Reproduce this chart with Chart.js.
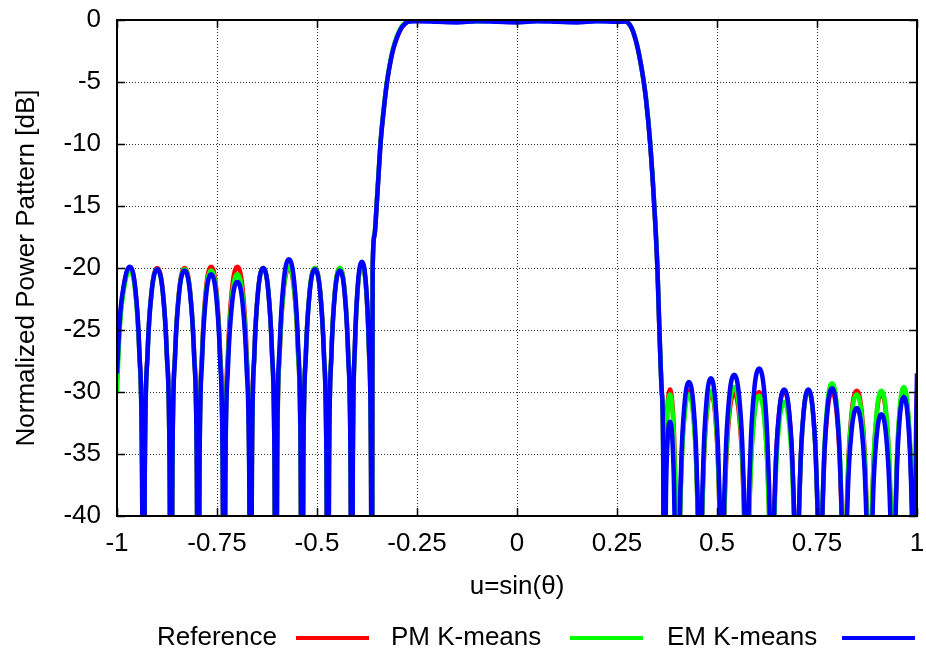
<!DOCTYPE html>
<html>
<head>
<meta charset="utf-8">
<script src="https://cdn.jsdelivr.net/npm/chart.js@4"></script>
<style>
html,body{margin:0;padding:0;background:#fff;}
#wrap{width:926px;height:653px;position:relative;}
</style>
</head>
<body>
<div id="wrap"><canvas id="c" width="926" height="653"></canvas></div>
<script>
// ---- data ----
const uValues = [
  -1.0, -0.995, -0.99, -0.983, -0.975, -0.9675, -0.9541, -0.944, -0.9374, -0.934,
  -0.9305, -0.9237, -0.9133, -0.8995, -0.8857, -0.8754, -0.8684, -0.865,
  -0.8616, -0.8548, -0.8446, -0.831, -0.8174, -0.8072, -0.8004, -0.797,
  -0.7938, -0.7873, -0.7776, -0.7647, -0.7518, -0.7422, -0.7357, -0.7325,
  -0.7292, -0.7225, -0.7125, -0.6992, -0.6859, -0.676, -0.6693, -0.666,
  -0.6628, -0.6565, -0.6471, -0.6345, -0.6219, -0.6124, -0.6061, -0.603,
  -0.5997, -0.5932, -0.5833, -0.5702, -0.5571, -0.5473, -0.5408, -0.5375,
  -0.5343, -0.5278, -0.5181, -0.5052, -0.4923, -0.4827, -0.4762, -0.473,
  -0.47, -0.464, -0.455, -0.443, -0.431, -0.422, -0.416, -0.413,
  -0.4105, -0.4054, -0.3978, -0.3877, -0.3776, -0.3701, -0.365, -0.3625,
  -0.3617, -0.3608, -0.356, -0.3508, -0.3458, -0.3408, -0.335, -0.33, -0.324, -0.316,
  -0.309, -0.3, -0.29, -0.28, -0.27, -0.25, -0.2, -0.15, -0.1, -0.05,
  0, 0.05, 0.1, 0.15, 0.2, 0.25, 0.27, 0.28, 0.29, 0.302,
  0.316, 0.3225, 0.3325, 0.343, 0.351, 0.356, 0.362, 0.3655, 0.367,
  0.369, 0.3725, 0.377, 0.3825, 0.388, 0.3925, 0.396, 0.399, 0.402,
  0.4048, 0.4103, 0.4187, 0.4298, 0.4409, 0.4492, 0.4547, 0.4575,
  0.4602, 0.4657, 0.4739, 0.4848, 0.4957, 0.5038, 0.5093, 0.512,
  0.5151, 0.5213, 0.5306, 0.543, 0.5554, 0.5647, 0.5709, 0.574,
  0.5771, 0.5834, 0.5928, 0.6054, 0.6179, 0.6273, 0.6336, 0.6367,
  0.6398, 0.646, 0.6554, 0.6679, 0.6803, 0.6897, 0.6959, 0.699,
  0.7019, 0.7078, 0.7166, 0.7283, 0.74, 0.7487, 0.7546, 0.7575,
  0.7605, 0.7665, 0.7755, 0.7875, 0.7995, 0.8085, 0.8145, 0.8175,
  0.8207, 0.827, 0.8366, 0.8493, 0.862, 0.8715, 0.8778, 0.881,
  0.884, 0.89, 0.899, 0.911, 0.923, 0.932, 0.938, 0.941,
  0.9436, 0.9488, 0.9566, 0.967, 0.9774, 0.9852, 0.9904, 0.993,
  0.9965, 1.0
];

const referenceDb = [
  -29, -25.5, -23.2, -21.5, -20.3, -20, -21.8, -26.9, -36.1, -60,
  -36.1, -26.9, -21.8, -20, -21.8, -26.9, -36.1, -60,
  -36.1, -26.9, -21.8, -20, -21.8, -26.9, -36.1, -60,
  -36.0, -26.8, -21.7, -19.9, -21.7, -26.8, -36.0, -60,
  -36.0, -26.8, -21.7, -19.9, -21.7, -26.8, -36.0, -60,
  -36.1, -26.9, -21.8, -20, -21.8, -26.9, -36.1, -60,
  -36.1, -26.9, -21.8, -20, -21.8, -26.9, -36.1, -60,
  -36.1, -26.9, -21.8, -20, -21.8, -26.9, -36.1, -60,
  -36.1, -26.9, -21.8, -20, -21.8, -26.9, -36.1, -60,
  -35.8, -26.6, -21.5, -19.7, -21.5, -26.6, -35.8, -60,
  -30, -20, -17.3, -14.9, -12.3, -9.8, -7.8, -6.3, -4.8, -3.3,
  -2.3, -1.4, -0.7, -0.3, -0.1, -0.05, -0.05, -0.1, -0.05, -0.05,
  -0.1, -0.05, -0.05, -0.1, -0.05, -0.05, -0.1, -0.3, -0.9, -2.3,
  -4.8, -6.4, -9.8, -14.9, -20, -25, -30, -35, -60,
  -38, -33.5, -30.8, -29.8, -30.8, -33.5, -38, -45, -60,
  -46.0, -36.8, -31.7, -29.9, -31.7, -36.8, -46.0, -60,
  -46.2, -37.0, -31.9, -30.1, -31.9, -37.0, -46.2, -60,
  -46.2, -37.0, -31.9, -30.1, -31.9, -37.0, -46.2, -60,
  -46.1, -36.9, -31.8, -30.0, -31.8, -36.9, -46.1, -60,
  -46.0, -36.8, -31.7, -29.9, -31.7, -36.8, -46.0, -60,
  -46.0, -36.8, -31.7, -29.9, -31.7, -36.8, -46.0, -60,
  -46.1, -36.9, -31.8, -30.0, -31.8, -36.9, -46.1, -60,
  -46.0, -36.8, -31.7, -29.9, -31.7, -36.8, -46.0, -60,
  -46.2, -37.0, -31.9, -30.1, -31.9, -37.0, -46.2, -60,
  -46.0, -36.8, -31.7, -29.9, -31.7, -36.8, -46.0, -60,
  -40, -30
];

const pmKmeansDb = [
  -30, -26, -23.6, -21.8, -20.5, -20.2, -22.0, -27.1, -36.3, -60,
  -36.2, -27.0, -21.9, -20.1, -21.9, -27.0, -36.2, -60,
  -36.2, -27.0, -21.9, -20.1, -21.9, -27.0, -36.2, -60,
  -36.3, -27.1, -22.0, -20.2, -22.0, -27.1, -36.3, -60,
  -36.6, -27.4, -22.3, -20.5, -22.3, -27.4, -36.6, -60,
  -36.1, -26.9, -21.8, -20, -21.8, -26.9, -36.1, -60,
  -36.0, -26.8, -21.7, -19.9, -21.7, -26.8, -36.0, -60,
  -36.1, -26.9, -21.8, -20, -21.8, -26.9, -36.1, -60,
  -36.1, -26.9, -21.8, -20, -21.8, -26.9, -36.1, -60,
  -35.8, -26.6, -21.5, -19.7, -21.5, -26.6, -35.8, -60,
  -30, -20, -17.2, -14.8, -12.2, -9.7, -7.7, -6.2, -4.7, -3.2,
  -2.2, -1.3, -0.6, -0.25, -0.08, -0.05, -0.08, -0.05, -0.1, -0.05,
  -0.05, -0.08, -0.05, -0.05, -0.08, -0.05, -0.1, -0.3, -0.9, -2.3,
  -4.8, -6.3, -9.7, -14.8, -19.9, -24.9, -30, -35, -60,
  -38.5, -34, -31.2, -30.2, -31.2, -34, -38.5, -45.5, -60,
  -46.3, -37.1, -32.0, -30.2, -32.0, -37.1, -46.3, -60,
  -46.0, -36.8, -31.7, -29.9, -31.7, -36.8, -46.0, -60,
  -45.7, -36.5, -31.4, -29.6, -31.4, -36.5, -45.7, -60,
  -46.4, -37.2, -32.1, -30.3, -32.1, -37.2, -46.4, -60,
  -46.9, -37.7, -32.6, -30.8, -32.6, -37.7, -46.9, -60,
  -46.0, -36.8, -31.7, -29.9, -31.7, -36.8, -46.0, -60,
  -45.4, -36.2, -31.1, -29.3, -31.1, -36.2, -45.4, -60,
  -46.3, -37.1, -32.0, -30.2, -32.0, -37.1, -46.3, -60,
  -46.0, -36.8, -31.7, -29.9, -31.7, -36.8, -46.0, -60,
  -45.7, -36.5, -31.4, -29.6, -31.4, -36.5, -45.7, -60,
  -41, -31
];

const emKmeansDb = [
  -28.5, -25.2, -23, -21.4, -20.2, -19.9, -21.7, -26.8, -36.0, -60,
  -36.2, -27.0, -21.9, -20.1, -21.9, -27.0, -36.2, -60,
  -36.3, -27.1, -22.0, -20.2, -22.0, -27.1, -36.3, -60,
  -36.6, -27.4, -22.3, -20.5, -22.3, -27.4, -36.6, -60,
  -37.2, -28.0, -22.9, -21.1, -22.9, -28.0, -37.2, -60,
  -36.1, -26.9, -21.8, -20, -21.8, -26.9, -36.1, -60,
  -35.4, -26.2, -21.1, -19.3, -21.1, -26.2, -35.4, -60,
  -36.2, -27.0, -21.9, -20.1, -21.9, -27.0, -36.2, -60,
  -36.3, -27.1, -22.0, -20.2, -22.0, -27.1, -36.3, -60,
  -35.6, -26.4, -21.3, -19.5, -21.3, -26.4, -35.6, -60,
  -30, -20, -17.3, -14.9, -12.3, -9.8, -7.8, -6.3, -4.8, -3.3,
  -2.3, -1.4, -0.7, -0.3, -0.12, -0.1, -0.15, -0.2, -0.1, -0.15,
  -0.2, -0.1, -0.15, -0.2, -0.1, -0.15, -0.12, -0.3, -0.9, -2.3,
  -4.8, -6.4, -9.8, -14.9, -20, -25, -30, -35, -60,
  -48, -38, -33.6, -32.4, -33.6, -37.5, -44, -52, -60,
  -45.3, -36.1, -31.0, -29.2, -31.0, -36.1, -45.3, -60,
  -45.0, -35.8, -30.7, -28.9, -30.7, -35.8, -45.0, -60,
  -44.7, -35.5, -30.4, -28.6, -30.4, -35.5, -44.7, -60,
  -44.2, -35.0, -29.9, -28.1, -29.9, -35.0, -44.2, -60,
  -45.9, -36.7, -31.6, -29.8, -31.6, -36.7, -45.9, -60,
  -45.9, -36.7, -31.6, -29.8, -31.6, -36.7, -45.9, -60,
  -45.8, -36.6, -31.5, -29.7, -31.5, -36.6, -45.8, -60,
  -47.4, -38.2, -33.1, -31.3, -33.1, -38.2, -47.4, -60,
  -47.9, -38.7, -33.6, -31.8, -33.6, -38.7, -47.9, -60,
  -46.5, -37.3, -32.2, -30.4, -32.2, -37.3, -46.5, -60,
  -37, -28.5
];

const seriesLabels = ['Reference', 'PM K-means', 'EM K-means'];
const xTickLabels = ['-1', '-0.75', '-0.5', '-0.25', '0', '0.25', '0.5', '0.75', '1'];
const yTickLabels = ['-40', '-35', '-30', '-25', '-20', '-15', '-10', '-5', '0'];
const xTitle = 'u=sin(\u03B8)';
const yTitle = 'Normalized Power Pattern [dB]';

// ---- chart ----
const FONT = '"Liberation Sans", Arial, Helvetica, sans-serif';
Chart.defaults.font.family = FONT;
Chart.defaults.color = '#000';

function toPoints(arr) { return uValues.map((u, i) => ({ x: u, y: arr[i] })); }

const seriesColors = ['#ff0000', '#00ff00', '#0000ff'];
const seriesData = [referenceDb, pmKmeansDb, emKmeansDb];

const datasets = seriesLabels.map((lab, i) => ({
  label: lab,
  data: toPoints(seriesData[i]),
  borderColor: seriesColors[i],
  backgroundColor: seriesColors[i],
  borderWidth: 4.5,
  pointRadius: 0,
  fill: false,
  cubicInterpolationMode: 'monotone',
  clip: 0,
  order: 2 - i
}));

const frameTicks = {
  id: 'frameTicks',
  afterDraw(chart) {
    const { ctx, chartArea: a, scales } = chart;
    ctx.save();
    ctx.strokeStyle = '#000';
    ctx.lineWidth = 1.5;
    const L = 8;
    ctx.beginPath();
    scales.x.ticks.forEach(t => {
      const px = Math.round(scales.x.getPixelForValue(t.value)) + 0.5;
      ctx.moveTo(px, a.bottom); ctx.lineTo(px, a.bottom - L);
      ctx.moveTo(px, a.top); ctx.lineTo(px, a.top + L);
    });
    scales.y.ticks.forEach(t => {
      const py = Math.round(scales.y.getPixelForValue(t.value)) + 0.5;
      ctx.moveTo(a.left, py); ctx.lineTo(a.left + L, py);
      ctx.moveTo(a.right, py); ctx.lineTo(a.right - L, py);
    });
    ctx.stroke();
    ctx.lineWidth = 2;
    ctx.strokeRect(a.left, a.top, a.right - a.left, a.bottom - a.top);
    ctx.restore();
  }
};

// gnuplot-style key: label followed by a line sample
const legendTextX = [157, 391, 667];
const legendLineX = [296, 570, 842];
const gnuLegend = {
  id: 'gnuLegend',
  afterDraw(chart) {
    const { ctx } = chart;
    ctx.save();
    ctx.font = '26px ' + FONT;
    ctx.textBaseline = 'middle';
    ctx.textAlign = 'left';
    const y = 638, lineLen = 73;
    chart.data.datasets.forEach((d, i) => {
      ctx.fillStyle = '#000';
      ctx.fillText(d.label, legendTextX[i], y);
      ctx.strokeStyle = d.borderColor;
      ctx.lineWidth = 4;
      ctx.beginPath();
      ctx.moveTo(legendLineX[i], y); ctx.lineTo(legendLineX[i] + lineLen, y);
      ctx.stroke();
    });
    ctx.restore();
  }
};

new Chart(document.getElementById('c'), {
  type: 'line',
  data: { datasets },
  options: {
    responsive: false,
    animation: false,
    layout: { autoPadding: false, padding: { top: 20, right: 9, bottom: 49, left: 0 } },
    plugins: { legend: { display: false }, tooltip: { enabled: false } },
    scales: {
      x: {
        type: 'linear',
        min: -1, max: 1,
        afterFit(s) { s.height = 88; s.paddingLeft = 0; s.paddingRight = 0; },
        ticks: {
          stepSize: 0.25,
          autoSkip: false,
          maxRotation: 0,
          padding: 12,
          font: { size: 26 },
          color: '#000',
          callback: (v, i) => xTickLabels[i]
        },
        grid: { color: 'rgba(0,0,0,0.8)', lineWidth: 1, drawTicks: false },
        border: { display: false, dash: [1, 2] },
        title: { display: true, text: xTitle, font: { size: 26 }, color: '#000', padding: { top: 0, bottom: 2 } }
      },
      y: {
        min: -40, max: 0,
        afterFit(s) { s.width = 117; s.paddingTop = 0; s.paddingBottom = 0; },
        ticks: {
          stepSize: 5,
          padding: 16,
          font: { size: 26 },
          color: '#000',
          callback: (v, i) => yTickLabels[i]
        },
        grid: { color: 'rgba(0,0,0,0.8)', lineWidth: 1, drawTicks: false },
        border: { display: false, dash: [1, 2] },
        title: { display: true, text: yTitle, font: { size: 26 }, color: '#000', padding: { top: 11, bottom: 0 } }
      }
    }
  },
  plugins: [frameTicks, gnuLegend]
});
</script>
</body>
</html>
